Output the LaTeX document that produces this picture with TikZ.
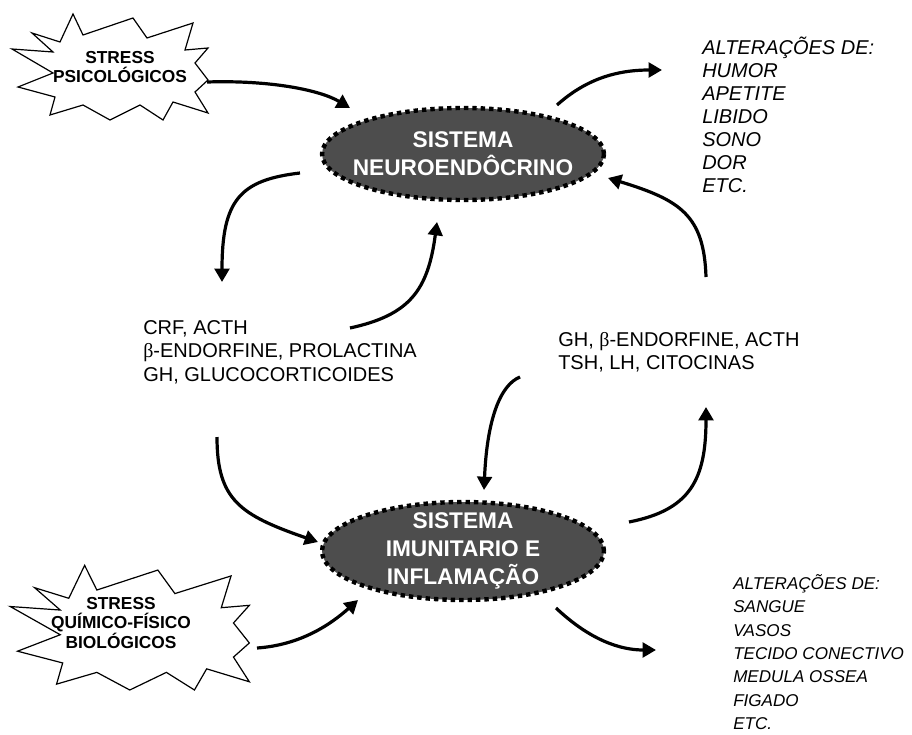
\documentclass[tikz,border=0pt]{standalone}
\usepackage{fontspec}
\setmainfont{Liberation Sans}
\newfontfamily\grkfont{Liberation Serif}
\usetikzlibrary{arrows.meta,shapes.geometric}
\definecolor{sysgray}{RGB}{77,77,77}
\newcommand{\betaglyph}{{\grkfont β}}

\begin{document}
\begin{tikzpicture}[x=0.75pt,y=-0.75pt,
  system/.style={ellipse, fill=sysgray, draw=black, line width=3.3pt,
    dash pattern=on 3.3pt off 3pt, text=white,
    font=\fontsize{17}{21}\selectfont\bfseries, align=center,
    inner xsep=-12pt, inner ysep=-6pt, minimum width=211.5pt},
  burstlabel/.style={font=\fontsize{13}{14.5}\selectfont\bfseries, align=center, inner sep=0pt},
  hormones/.style={font=\fontsize{15}{17.6}\selectfont, align=left, anchor=west, inner sep=0pt},
  effects/.style={font=\fontsize{15}{17.3}\selectfont\itshape, align=left, anchor=west, inner sep=0pt},
  flow/.style={line width=2.4pt, -{Triangle[length=10pt,width=11pt]}},
  burst/.pic={
    \draw[line width=0.9pt, fill=white]
      (-99,-17) -- (-58,-14) -- (-79,-33) -- (-51,-24) -- (-38,-52) -- (-28,-31)
      -- (22,-48) -- (36,-28) -- (82,-43) -- (74,-16) -- (97,-18) -- (84,-3)
      -- (97,14) -- (84,26) -- (97,47) -- (62,36) -- (52,54) -- (29,39)
      -- (-1,54) -- (-28,39) -- (-61,49) -- (-56,31) -- (-93,21) -- (-58,7) -- cycle;
  }
]
\useasboundingbox (0,0) rectangle (912,734);

% stress sources
\pic at (111,66) {burst};
\node[burstlabel] (psy) at (120,67) {STRESS\\PSICOLÓGICOS};
\pic[xscale=1.22,yscale=1.176] at (131,626.5) {burst};
\node[burstlabel] (chem) at (121,623) {STRESS\\QUÍMICO-FÍSICO\\BIOLÓGICOS};

% the two systems
\node[system, minimum height=69pt] (neuro) at (463,154) {SISTEMA\\NEUROENDÔCRINO};
\node[system, minimum height=73.5pt] (immune) at (463,551) {SISTEMA\\IMUNITARIO E\\INFLAMAÇÃO};

% messengers
\node[hormones] (hneuro) at (143,352) {CRF, ACTH\\\betaglyph-ENDORFINE, PROLACTINA\\GH, GLUCOCORTICOIDES};
\node[hormones] (himm) at (558,352) {GH, \betaglyph-ENDORFINE, ACTH\\TSH, LH, CITOCINAS};

% effects
\node[effects] (eneuro) at (702,115) {ALTERAÇÕES DE:\\HUMOR\\APETITE\\LIBIDO\\SONO\\DOR\\ETC.};
\node[effects, font=\fontsize{12.8}{17.5}\selectfont\itshape] (eimm) at (733,652)
  {ALTERAÇÕES DE:\\SANGUE\\VASOS\\TECIDO CONECTIVO\\MEDULA OSSEA\\FIGADO\\ETC.};

% arrow end points
\coordinate (psyOut) at (207,82);   \coordinate (neuroInA) at (350,108);
\coordinate (neuroOutA) at (557,105); \coordinate (eneuroIn) at (662,70);
\coordinate (neuroOutB) at (300,173); \coordinate (hneuroIn) at (222,282);
\coordinate (hneuroOutA) at (350,328); \coordinate (neuroInB) at (437,222);
\coordinate (himmOutA) at (706,277); \coordinate (neuroInC) at (608,178);
\coordinate (hneuroOutB) at (217,437); \coordinate (immInA) at (318,542);
\coordinate (himmOutB) at (520,377); \coordinate (immInB) at (484,490);
\coordinate (immOutA) at (629,522); \coordinate (himmIn) at (706,407);
\coordinate (chemOut) at (257,648); \coordinate (immInC) at (358,600);
\coordinate (immOutB) at (556,608); \coordinate (eimmIn) at (656,650);

\draw[flow] (psyOut) .. controls (270,80) and (320,90) .. (neuroInA);
\draw[flow] (neuroOutA) .. controls (585,80) and (615,70) .. (eneuroIn);
\draw[flow] (neuroOutB) .. controls (240,180) and (222,200) .. (hneuroIn);
\draw[flow] (hneuroOutA) .. controls (410,315) and (428,290) .. (neuroInB);
\draw[flow] (himmOutA) .. controls (704,215) and (680,200) .. (neuroInC);
\draw[flow] (hneuroOutB) .. controls (217,500) and (240,515) .. (immInA);
\draw[flow] (himmOutB) .. controls (500,385) and (487,420) .. (immInB);
\draw[flow] (immOutA) .. controls (690,510) and (706,480) .. (himmIn);
\draw[flow] (chemOut) .. controls (300,645) and (330,625) .. (immInC);
\draw[flow] (immOutB) .. controls (590,640) and (620,650) .. (eimmIn);
\end{tikzpicture}
\end{document}
